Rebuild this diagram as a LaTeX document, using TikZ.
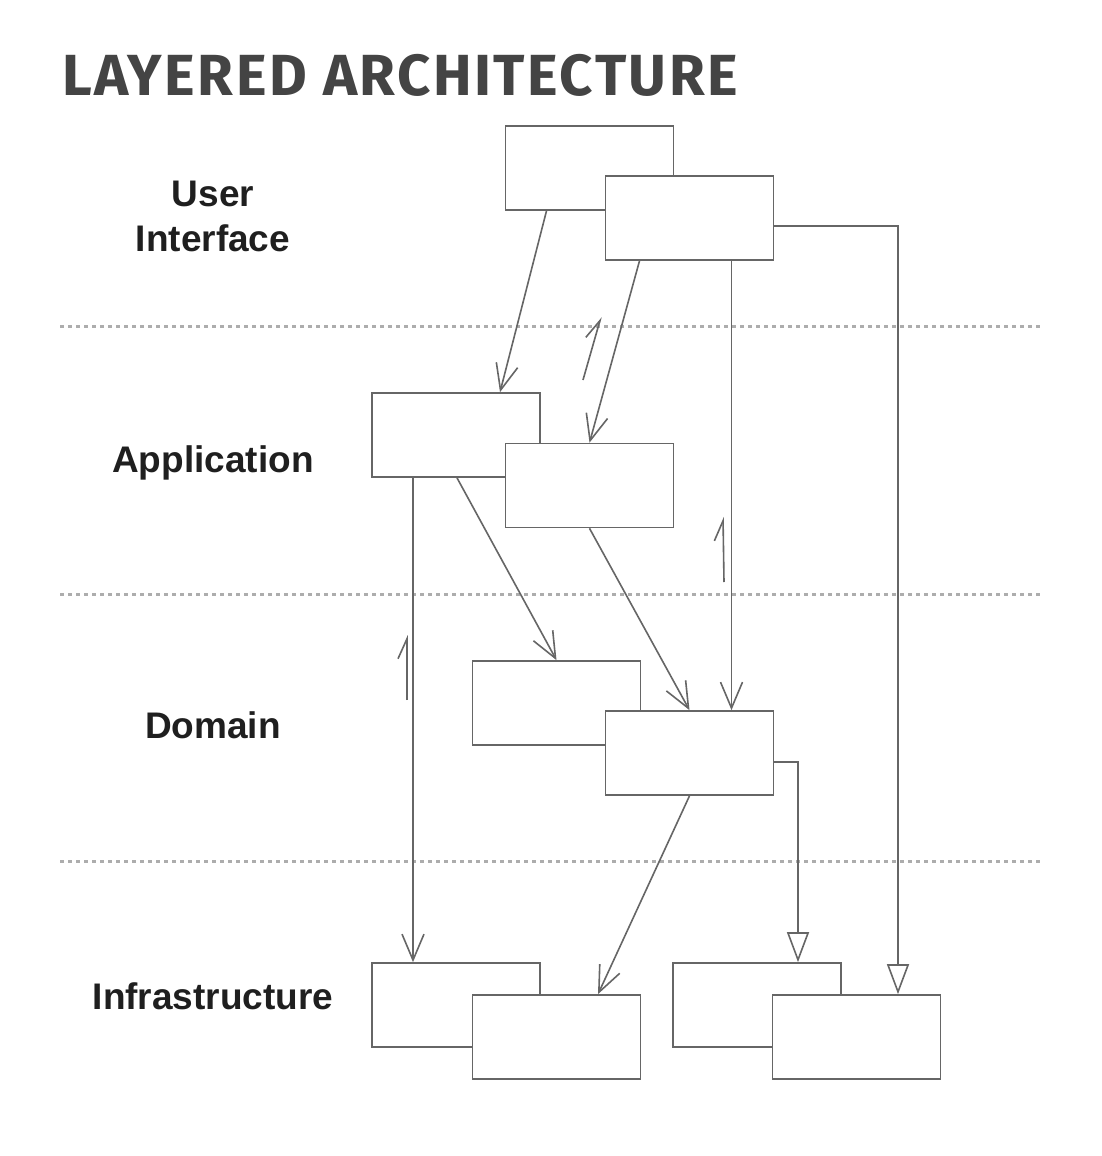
\documentclass[tikz,border=0pt]{standalone}
\usepackage{fontspec}
\setmainfont{Liberation Sans}
\newfontfamily\titlefont[LetterSpace=4.3]{Fira Sans}
\usetikzlibrary{arrows.meta}

\definecolor{linegray}{HTML}{666666}
\definecolor{dotgray}{HTML}{ADADAD}
\definecolor{titlegray}{HTML}{444444}

\tikzstyle{box}=[draw=linegray,line width=1.7pt,fill=white,minimum width=168pt,minimum height=84pt,inner sep=0pt]
\tikzstyle{layer}=[font=\fontsize{37}{45}\selectfont\bfseries,text=black!88,align=center]
\tikzstyle{sep}=[dotgray,line width=3pt,dash pattern=on 3.5pt off 4.5pt]
\tikzstyle{dep}=[linegray,line width=1.6pt,-{Straight Barb[length=26pt,width=22pt]}]
\tikzstyle{impl}=[linegray,line width=1.6pt,-{Triangle[open,length=30pt,width=22pt,fill=white]}]
\tikzstyle{back}=[linegray,line width=1.6pt,-{Straight Barb[harpoon,length=20pt,width=18pt]}]

\begin{document}
\begin{tikzpicture}[x=1pt,y=-1pt]
	\useasboundingbox[fill=white] (0,0) rectangle (1102,1156);
	
	\node[anchor=base west,font=\titlefont\fontsize{58}{60}\selectfont\bfseries,text=titlegray,inner sep=0pt] (title) at (62,95) {LAYERED ARCHITECTURE};
	
	% layer separators
	\draw[sep] (60,326) -- (1042,326);
	\draw[sep] (60,594) -- (1042,594);
	\draw[sep] (60,861) -- (1042,861);
	
	% layer names
	\node[layer] (lui) at (213,216) {User\\Interface};
	\node[layer,anchor=base] (lapp) at (213,472) {Application};
	\node[layer,anchor=base] (ldom) at (213,738) {Domain};
	\node[layer,anchor=base] (linf) at (213,1009) {Infrastructure};
	
	% boxes
	\node[box] (ui1) at (589.5,168) {};
	\node[box] (ui2) at (689.5,218) {};
	\node[box] (app1) at (456,435) {};
	\node[box] (app2) at (589.5,485.5) {};
	\node[box] (dom1) at (556.5,703) {};
	\node[box] (dom2) at (689.5,753) {};
	\node[box] (inf1) at (456,1005) {};
	\node[box] (inf2) at (556.5,1037) {};
	\node[box] (inf3) at (757,1005) {};
	\node[box] (inf4) at (856.5,1037) {};
	
	% dependencies
	\draw[dep] ([xshift=-43pt]ui1.south) -- ([xshift=44pt]app1.north);
	\draw[dep] ([xshift=-50pt]ui2.south) -- (app2.north);
	\draw[dep] ([xshift=42pt]ui2.south) -- ([xshift=42pt]dom2.north);
	\draw[impl] ([yshift=-8pt]ui2.east) -| ([xshift=41.5pt]inf4.north);
	\draw[dep] ([xshift=-43pt]app1.south) -- ([xshift=-43pt]inf1.north);
	\draw[dep] ([xshift=1pt]app1.south) -- (dom1.north);
	\draw[dep] (app2.south) -- (dom2.north);
	\draw[dep] (dom2.south) -- ([xshift=41.5pt]inf2.north);
	\draw[impl] ([yshift=-9pt]dom2.east) -| ([xshift=41pt]inf3.north);
	
	% callbacks upward
	\draw[back] (583,380) -- (601,317);
	\draw[back] (724,582) -- (723,517);
	\draw[back] (407,700) -- (407,635);
\end{tikzpicture}
\end{document}
